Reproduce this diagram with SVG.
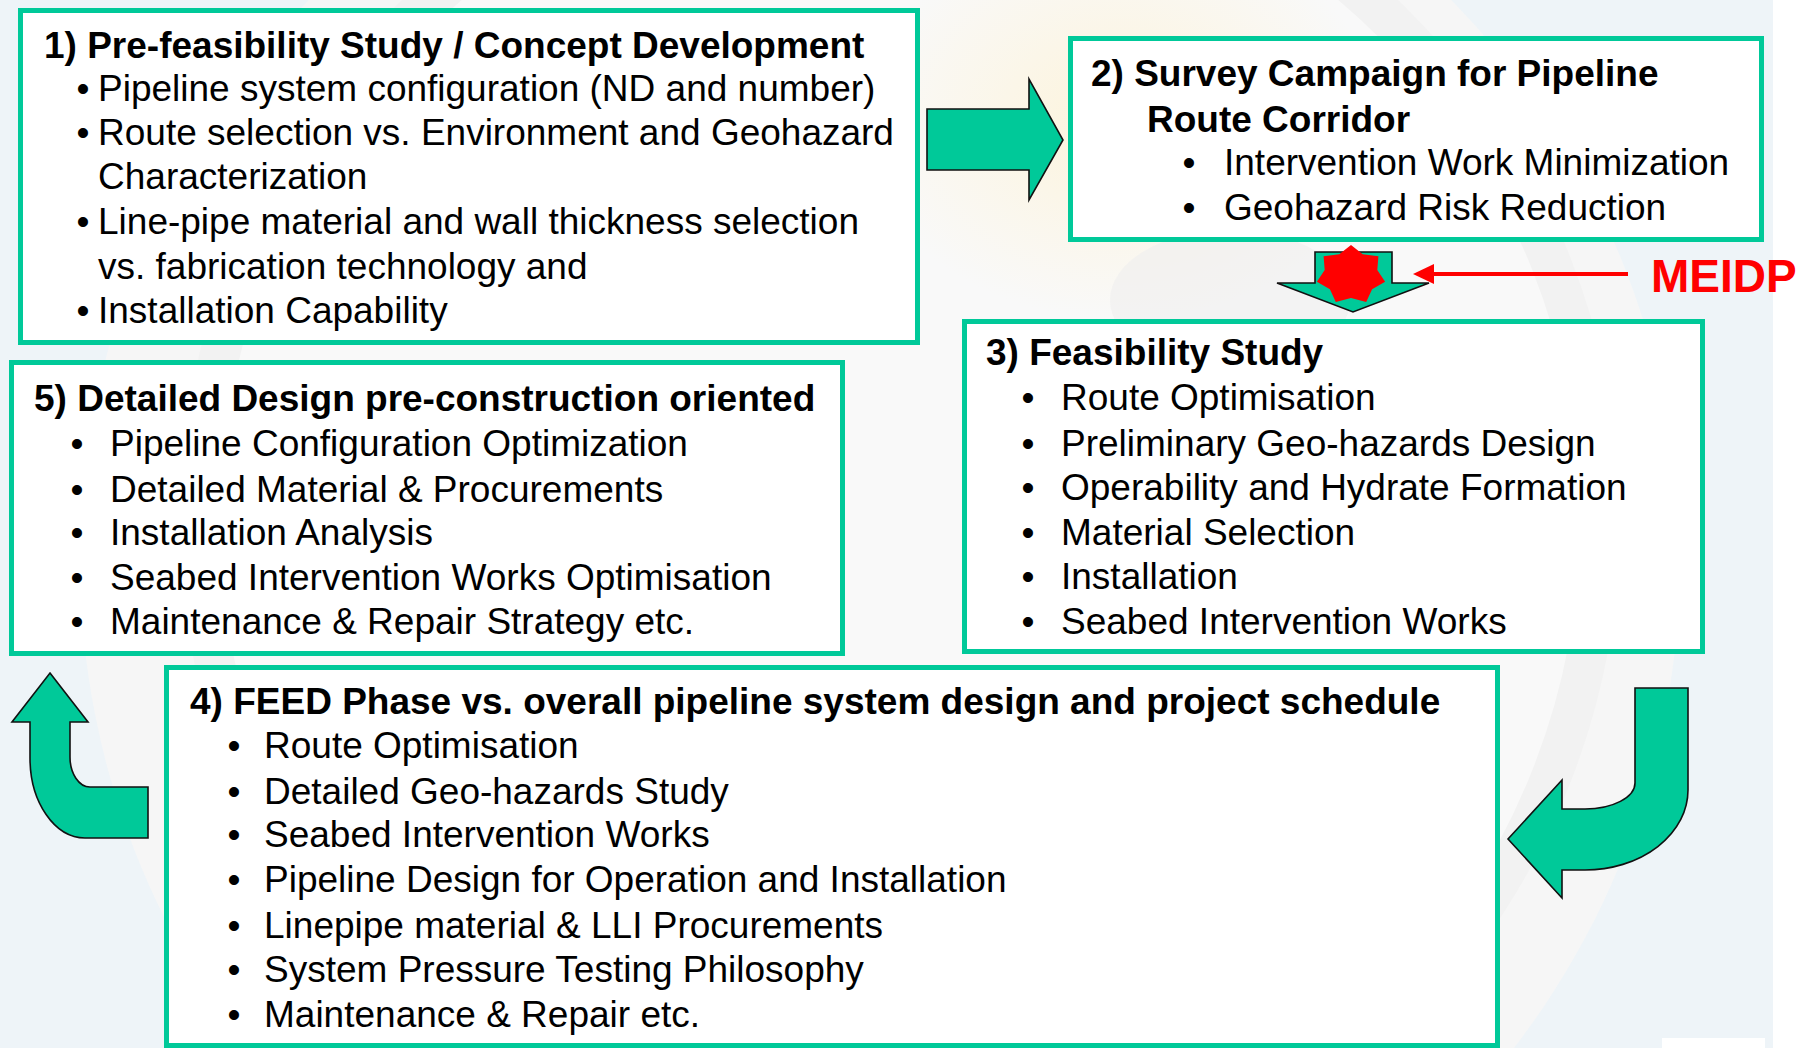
<svg xmlns="http://www.w3.org/2000/svg" width="1806" height="1048" viewBox="0 0 1806 1048">
  <defs>
    <radialGradient id="warm" cx="0.5" cy="0.5" r="0.5">
      <stop offset="0" stop-color="#fdf3d8" stop-opacity="0.9"/>
      <stop offset="1" stop-color="#fdf3d8" stop-opacity="0"/>
    </radialGradient>
    <style>
      .box { fill: #ffffff; stroke: #00c999; stroke-width: 5; }
      .flow { fill: #00c999; stroke: #111111; stroke-width: 1.6; stroke-linejoin: miter; }
      .title { font-family: "Liberation Sans", Arial, sans-serif; font-size: 37px; font-weight: bold; fill: #000000; }
      .item { font-family: "Liberation Sans", Arial, sans-serif; font-size: 37px; fill: #000000; }
      .dot { font-family: "Liberation Sans", Arial, sans-serif; font-size: 37px; fill: #000000; text-anchor: middle; }
      .tag { font-family: "Liberation Sans", Arial, sans-serif; font-size: 46px; font-weight: bold; fill: #ff0000; }
    </style>
  </defs>

  <!-- slide background -->
  <g id="background">
    <rect x="0" y="0" width="1806" height="1048" fill="#ffffff"/>
    <rect x="0" y="0" width="1773" height="1048" fill="#eef4f8"/>
    <circle cx="880" cy="560" r="800" fill="#f6f6f6"/>
    <circle cx="900" cy="520" r="700" fill="#f9f9f9"/>
    <circle cx="900" cy="520" r="700" fill="none" stroke="#f2f2f2" stroke-width="40"/>
    <ellipse cx="1120" cy="120" rx="260" ry="200" fill="url(#warm)"/>
    <ellipse cx="1230" cy="300" rx="120" ry="70" fill="#eeeeee" opacity="0.6"/>
    <rect x="1662" y="1038" width="103" height="10" fill="#ffffff"/>
  </g>

  <!-- flow arrows between the stages -->
  <g id="connectors">
    <path class="flow" d="M927 109 L1029 109 L1029 79 L1063 140 L1029 200 L1029 170 L927 170 Z"/>
    <path class="flow" d="M1315 252 L1392 252 L1392 283 L1429 283 L1353 312 L1277 283 L1315 283 Z"/>
    <path class="flow" d="M1635 688 L1688 688 L1688 790 A103 80 0 0 1 1585 870 L1562 870 L1562 898 L1508 839 L1562 780 L1562 809 L1585 809 A50 26 0 0 0 1635 783 Z"/>
    <path class="flow" d="M50 673 L88 722 L70 722 L70 757 A20 30 0 0 0 90 787 L148 787 L148 838 L85 838 A55 80 0 0 1 30 758 L30 722 L12 722 Z"/>
  </g>

  <!-- MEIDP milestone marker -->
  <g id="meidp">
    <polygon fill="#ff0000" points="1351,245 1362.7,254.3 1378.4,256.3 1377.3,269.9 1385.1,281.7 1372.1,289.3 1366.2,302 1351,298 1335.8,302 1329.9,289.3 1316.9,281.7 1324.7,269.9 1323.6,256.3 1339.3,254.3"/>
    <line x1="1628" y1="274" x2="1432" y2="274" stroke="#ff0000" stroke-width="4"/>
    <polygon fill="#ff0000" points="1413,274 1434,264 1434,284"/>
    <text class="tag" x="1651" y="292">MEIDP</text>
  </g>

  <!-- 1) Pre-feasibility -->
  <g id="stage1">
    <rect class="box" x="20.5" y="10.5" width="897" height="332"/>
    <text class="title" x="44" y="58">1) Pre-feasibility Study / Concept Development</text>
    <text class="dot" x="83" y="101">•</text>
    <text class="item" x="98" y="101">Pipeline system configuration (ND and number)</text>
    <text class="dot" x="83" y="145">•</text>
    <text class="item" x="98" y="145">Route selection vs. Environment and Geohazard</text>
    <text class="item" x="98" y="189">Characterization</text>
    <text class="dot" x="83" y="234">•</text>
    <text class="item" x="98" y="234">Line-pipe material and wall thickness selection</text>
    <text class="item" x="98" y="279">vs. fabrication technology and</text>
    <text class="dot" x="83" y="323">•</text>
    <text class="item" x="98" y="323">Installation Capability</text>
  </g>

  <!-- 2) Survey campaign -->
  <g id="stage2">
    <rect class="box" x="1070.5" y="38.5" width="691" height="201"/>
    <text class="title" x="1091" y="86">2) Survey Campaign for Pipeline</text>
    <text class="title" x="1147" y="132">Route Corridor</text>
    <text class="dot" x="1189" y="175">•</text>
    <text class="item" x="1224" y="175">Intervention Work Minimization</text>
    <text class="dot" x="1189" y="220">•</text>
    <text class="item" x="1224" y="220">Geohazard Risk Reduction</text>
  </g>

  <!-- 3) Feasibility -->
  <g id="stage3">
    <rect class="box" x="964.5" y="321.5" width="738" height="330"/>
    <text class="title" x="986" y="365">3) Feasibility Study</text>
    <text class="dot" x="1028" y="410">•</text>
    <text class="item" x="1061" y="410">Route Optimisation</text>
    <text class="dot" x="1028" y="456">•</text>
    <text class="item" x="1061" y="456">Preliminary Geo-hazards Design</text>
    <text class="dot" x="1028" y="500">•</text>
    <text class="item" x="1061" y="500">Operability and Hydrate Formation</text>
    <text class="dot" x="1028" y="545">•</text>
    <text class="item" x="1061" y="545">Material Selection</text>
    <text class="dot" x="1028" y="589">•</text>
    <text class="item" x="1061" y="589">Installation</text>
    <text class="dot" x="1028" y="634">•</text>
    <text class="item" x="1061" y="634">Seabed Intervention Works</text>
  </g>

  <!-- 5) Detailed design -->
  <g id="stage5">
    <rect class="box" x="11.5" y="362.5" width="831" height="291"/>
    <text class="title" x="34" y="411">5) Detailed Design pre-construction oriented</text>
    <text class="dot" x="77" y="456">•</text>
    <text class="item" x="110" y="456">Pipeline Configuration Optimization</text>
    <text class="dot" x="77" y="502">•</text>
    <text class="item" x="110" y="502">Detailed Material &amp; Procurements</text>
    <text class="dot" x="77" y="545">•</text>
    <text class="item" x="110" y="545">Installation Analysis</text>
    <text class="dot" x="77" y="590">•</text>
    <text class="item" x="110" y="590">Seabed Intervention Works Optimisation</text>
    <text class="dot" x="77" y="634">•</text>
    <text class="item" x="110" y="634">Maintenance &amp; Repair Strategy etc.</text>
  </g>

  <!-- 4) FEED phase -->
  <g id="stage4">
    <rect class="box" x="166.5" y="667.5" width="1331" height="378"/>
    <text class="title" x="190" y="714">4) FEED Phase vs. overall pipeline system design and project schedule</text>
    <text class="dot" x="234" y="758">•</text>
    <text class="item" x="264" y="758">Route Optimisation</text>
    <text class="dot" x="234" y="804">•</text>
    <text class="item" x="264" y="804">Detailed Geo-hazards Study</text>
    <text class="dot" x="234" y="847">•</text>
    <text class="item" x="264" y="847">Seabed Intervention Works</text>
    <text class="dot" x="234" y="892">•</text>
    <text class="item" x="264" y="892">Pipeline Design for Operation and Installation</text>
    <text class="dot" x="234" y="938">•</text>
    <text class="item" x="264" y="938">Linepipe material &amp; LLI Procurements</text>
    <text class="dot" x="234" y="982">•</text>
    <text class="item" x="264" y="982">System Pressure Testing Philosophy</text>
    <text class="dot" x="234" y="1027">•</text>
    <text class="item" x="264" y="1027">Maintenance &amp; Repair etc.</text>
  </g>
</svg>
